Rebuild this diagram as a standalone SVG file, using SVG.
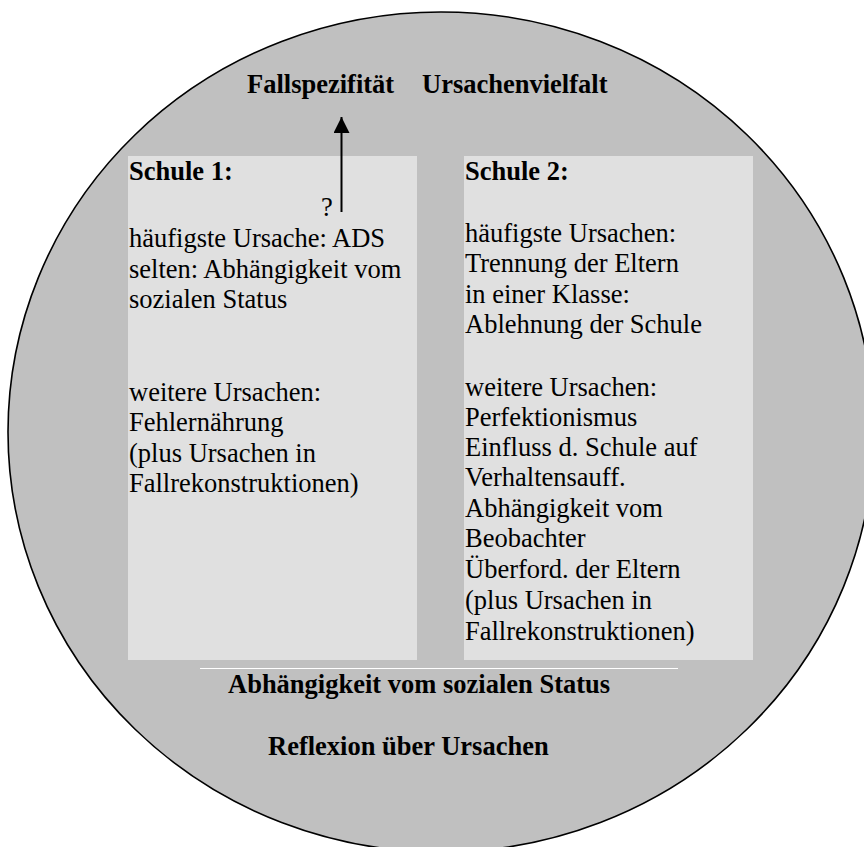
<svg xmlns="http://www.w3.org/2000/svg" width="864" height="847" viewBox="0 0 864 847">
  <style>
    text { font-family: "Liberation Serif", "Times New Roman", serif; font-size: 26.5px; fill: #000; }
    .b { font-weight: bold; }
    .box { fill: #e0e0e0; }
  </style>
  <defs>
    <marker id="head" viewBox="0 0 10 10" refX="10" refY="5" markerWidth="16" markerHeight="16" markerUnits="userSpaceOnUse" orient="auto">
      <path d="M0,0 L10,5 L0,10 z" fill="#000"/>
    </marker>
  </defs>

  <!-- outer field -->
  <g id="field">
    <ellipse cx="441" cy="432" rx="433" ry="420" fill="#c0c0c0" stroke="#000" stroke-width="1.6"/>
    <text class="b" x="247" y="93">Fallspezifität</text>
    <text class="b" x="422" y="93">Ursachenvielfalt</text>
    <text class="b" x="228" y="693">Abhängigkeit vom sozialen Status</text>
    <text class="b" x="268" y="755">Reflexion über Ursachen</text>
  </g>

  <!-- school 1 -->
  <g id="schule1">
    <rect class="box" x="128" y="156" width="289" height="504"/>
    <text class="b" x="129" y="180">Schule 1:</text>
    <text x="321" y="216">?</text>
    <text x="129" y="247">häufigste Ursache: ADS</text>
    <text x="129" y="278">selten: Abhängigkeit vom</text>
    <text x="129" y="308">sozialen Status</text>
    <text x="129" y="401">weitere Ursachen:</text>
    <text x="129" y="431">Fehlernährung</text>
    <text x="129" y="462">(plus Ursachen in</text>
    <text x="129" y="492">Fallrekonstruktionen)</text>
  </g>

  <!-- school 2 -->
  <g id="schule2">
    <rect class="box" x="464" y="156" width="289" height="504"/>
    <text class="b" x="465" y="180">Schule 2:</text>
    <text x="465" y="242">häufigste Ursachen:</text>
    <text x="465" y="272">Trennung der Eltern</text>
    <text x="465" y="303">in einer Klasse:</text>
    <text x="465" y="333">Ablehnung der Schule</text>
    <text x="465" y="396">weitere Ursachen:</text>
    <text x="465" y="426">Perfektionismus</text>
    <text x="465" y="456">Einfluss d. Schule auf</text>
    <text x="465" y="486">Verhaltensauff.</text>
    <text x="465" y="517">Abhängigkeit vom</text>
    <text x="465" y="547">Beobachter</text>
    <text x="465" y="578">Überford. der Eltern</text>
    <text x="465" y="609">(plus Ursachen in</text>
    <text x="465" y="640">Fallrekonstruktionen)</text>
  </g>

  <!-- connectors -->
  <g id="connectors">
    <line x1="341.5" y1="212" x2="341.5" y2="117" stroke="#000" stroke-width="2" marker-end="url(#head)"/>
    <line x1="200" y1="668.5" x2="678" y2="668.5" stroke="#fff" stroke-width="1"/>
  </g>
</svg>
